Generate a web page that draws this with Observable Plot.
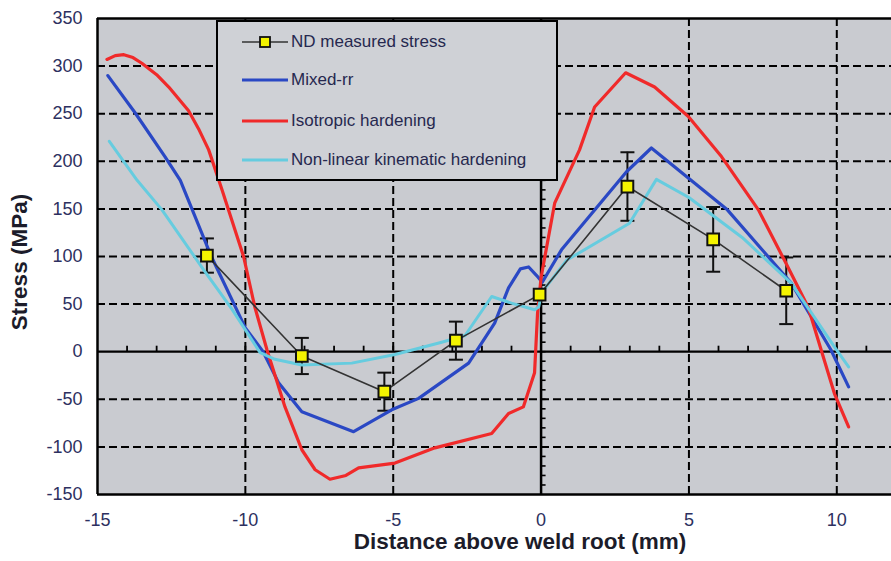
<!DOCTYPE html>
<html><head><meta charset="utf-8">
<script src="https://cdn.jsdelivr.net/npm/d3@7"></script>
<script src="https://cdn.jsdelivr.net/npm/@observablehq/plot@0.6"></script>
<style>
body{margin:0;background:#fff;}
#wrap{position:relative;width:891px;height:561px;overflow:hidden;font-family:"Liberation Sans",Arial,sans-serif;background:#fff;}
#wrap > svg{position:absolute;left:0;top:0;}
.title{position:absolute;font-weight:bold;font-size:22.5px;color:#1c1c2a;white-space:nowrap;line-height:0.8;}
#legend{position:absolute;left:216px;top:20px;width:342px;height:161px;box-sizing:border-box;border:2.5px solid #000;background:#cfd1d6;}
.lrow{position:absolute;left:242px;height:20px;display:flex;align-items:center;}
.lrow svg{display:block;flex:none;}
.lrow span{font-size:17px;color:#26284f;margin-left:3px;line-height:20px;white-space:nowrap;}
</style></head><body><div id="wrap"></div>
<script>
// ---------- data ----------
const measuredX = [-11.3, -8.09, -5.3, -2.88, -0.05, 2.92, 5.82, 8.29];
const measuredY = [101, -4.5, -42, 11.6, 60, 173.5, 118, 64];
const measuredErr = [18, 19, 20, 20, 0, 36, 34, 35];

const mixedX = [-14.65,-13.73,-12.72,-12.2,-11.15,-10.0,-9.4,-8.87,-8.09,-6.34,-5.05,-4.14,-2.45,-1.57,-1.1,-0.7,-0.42,-0.15,0.04,0.69,2.89,3.73,6.3,8.46,9.8,10.4];
const mixedY = [290,251,205,180,100,25,0,-33,-63,-84,-61,-49,-12,30,67,87,89,80,73,107,189,214,149,72,2,-37];

const isoX = [-14.68,-14.4,-14.11,-13.8,-13.5,-13.0,-12.59,-11.92,-11.58,-11.24,-10.79,-10.06,-9.68,-9.27,-8.66,-8.09,-7.64,-7.14,-6.6,-6.17,-4.94,-3.59,-1.67,-1.1,-0.6,-0.22,-0.12,0.0,0.46,1.3,1.81,2.86,3.84,4.98,6.1,7.35,8.23,9.03,9.92,10.4];
const isoY = [307,311,312,309,303,291,278,253,234,212,170,100,47,2,-58,-103,-124,-134,-130,-122,-117,-101,-86,-65,-58,-22,40,78,156,212,257,293,278,247,205,149,96,47,-44,-79];

const kinX = [-14.6,-13.66,-12.82,-11.41,-10.46,-9.5,-9.0,-8.09,-6.4,-4.94,-3.36,-2.57,-1.67,-1.0,-0.22,-0.08,0.02,0.86,2.99,3.9,5.0,6.8,8.46,9.92,10.4];
const kinY = [221,180,149,86,45,-1,-8,-14,-12,-3,10,17,58,51,44,47,62,96,135,181,162,120,72,5,-16];

const xTickLabels = [-15, -10, -5, 0, 5, 10];
const yTickLabels = [-150, -100, -50, 0, 50, 100, 150, 200, 250, 300, 350];
const xGrid = [-10, -5, 5, 10];
const yGrid = [-100, -50, 50, 100, 150, 200, 250, 300];
const xMinor = d3.range(-14, 12, 1);
const yMinor = d3.range(-140, 350, 10);

const legendLabels = ["ND measured stress", "Mixed-rr", "Isotropic hardening", "Non-linear kinematic hardening"];
const colors = {meas: "#333333", mixed: "#2a48c4", iso: "#f02a2a", kin: "#66ccdf"};

// ---------- tables ----------
const toRows = (xs, ys) => xs.map((x, i) => ({x, y: ys[i]}));
const measured = measuredX.map((x, i) => ({x, y: measuredY[i], lo: measuredY[i] - measuredErr[i], hi: measuredY[i] + measuredErr[i], e: measuredErr[i]}));
const withErr = measured.filter(d => d.e > 0);

const tickUp = {draw(c){ c.moveTo(0, 0); c.lineTo(0, -6); }};
const tickRight = {draw(c){ c.moveTo(0, 0); c.lineTo(4.5, 0); }};
const cap = {draw(c){ c.moveTo(-7, 0); c.lineTo(7, 0); }};

const chart = Plot.plot({
  width: 891, height: 561,
  marginLeft: 97, marginRight: 0, marginTop: 18, marginBottom: 67,
  style: {fontFamily: '"Liberation Sans", Arial, sans-serif', background: "transparent", overflow: "visible"},
  x: {domain: [-15, 11.85]},
  y: {domain: [-150, 350]},
  marks: [
    Plot.frame({fill: "#c9cbd0", stroke: "none"}),
    Plot.ruleX(xGrid, {stroke: "#000", strokeWidth: 2, strokeDasharray: "8,4"}),
    Plot.ruleY(yGrid, {stroke: "#000", strokeWidth: 2, strokeDasharray: "8,4"}),
    Plot.ruleY([0], {stroke: "#000", strokeWidth: 2.2}),
    Plot.ruleX([0], {stroke: "#000", strokeWidth: 2.5}),
    Plot.dot(xMinor, {x: d => d, y: 0, symbol: tickUp, fill: "none", stroke: "#000", strokeWidth: 1.8}),
    Plot.dot(yMinor, {x: 0, y: d => d, symbol: tickRight, fill: "none", stroke: "#000", strokeWidth: 1.6}),
    Plot.ruleX([-15], {stroke: "#000", strokeWidth: 2.5}),
    Plot.ruleY([-150, 350], {stroke: "#000", strokeWidth: 2.5}),
    Plot.axisX(xTickLabels, {tickSize: 0, tickPadding: 19, fontSize: 18, fill: "#2d3060", label: null, tickFormat: d => String(d)}),
    Plot.axisY(yTickLabels, {tickSize: 0, tickPadding: 15, fontSize: 18, fill: "#2d3060", label: null, tickFormat: d => String(d)}),
    Plot.ruleX(withErr, {x: "x", y1: "lo", y2: "hi", stroke: "#111", strokeWidth: 2}),
    Plot.dot(withErr, {x: "x", y: "lo", symbol: cap, fill: "none", stroke: "#111", strokeWidth: 2}),
    Plot.dot(withErr, {x: "x", y: "hi", symbol: cap, fill: "none", stroke: "#111", strokeWidth: 2}),
    Plot.line(toRows(mixedX, mixedY), {x: "x", y: "y", stroke: colors.mixed, strokeWidth: 3.2}),
    Plot.line(toRows(isoX, isoY), {x: "x", y: "y", stroke: colors.iso, strokeWidth: 3.2}),
    Plot.line(toRows(kinX, kinY), {x: "x", y: "y", stroke: colors.kin, strokeWidth: 3}),
    Plot.line(measured, {x: "x", y: "y", stroke: colors.meas, strokeWidth: 1.6}),
    Plot.dot(measured, {x: "x", y: "y", symbol: "square", r: 6.6, fill: "#f4f400", stroke: "#111", strokeWidth: 2})
  ]
});

const wrap = document.getElementById("wrap");
wrap.appendChild(chart);

// axis titles
const xt = document.createElement("div");
xt.className = "title"; xt.textContent = "Distance above weld root (mm)";
xt.style.left = "520px"; xt.style.top = "533px"; xt.style.transform = "translateX(-50%)";
wrap.appendChild(xt);
const yt = document.createElement("div");
yt.className = "title"; yt.textContent = "Stress (MPa)";
yt.style.left = "20px"; yt.style.top = "262px"; yt.style.transform = "translate(-50%,-50%) rotate(-90deg)";
wrap.appendChild(yt);

// legend
const lg = document.createElement("div"); lg.id = "legend"; wrap.appendChild(lg);
const rowY = [42, 80, 121, 160];
const swatches = [
  `<svg width="46" height="16"><line x1="0" y1="8" x2="46" y2="8" stroke="${colors.meas}" stroke-width="1.6"/><rect x="18" y="3" width="10" height="10" fill="#f4f400" stroke="#111" stroke-width="1.8"/></svg>`,
  `<svg width="46" height="16"><line x1="0" y1="8" x2="46" y2="8" stroke="${colors.mixed}" stroke-width="3.2"/></svg>`,
  `<svg width="46" height="16"><line x1="0" y1="8" x2="46" y2="8" stroke="${colors.iso}" stroke-width="3.2"/></svg>`,
  `<svg width="46" height="16"><line x1="0" y1="8" x2="46" y2="8" stroke="${colors.kin}" stroke-width="3"/></svg>`
];
legendLabels.forEach((t, i) => {
  const r = document.createElement("div");
  r.className = "lrow";
  r.style.top = (rowY[i] - 10) + "px";
  r.innerHTML = swatches[i] + `<span>${t}</span>`;
  wrap.appendChild(r);
});
</script>
</body></html>
